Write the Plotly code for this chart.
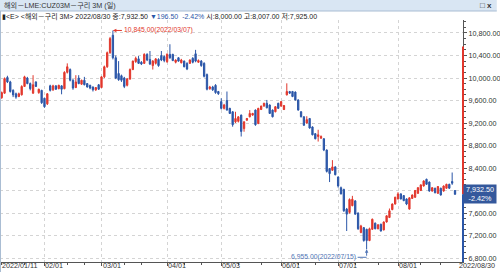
import plotly.graph_objects as go
import pandas as pd

# ---------------- data ----------------
HOLIDAYS = ["2022-04-15", "2022-04-18", "2022-05-02", "2022-06-02", "2022-06-03", "2022-08-29"]
dates = [d.strftime("%Y-%m-%d") for d in pd.bdate_range("2022-01-11", "2022-08-30")
         if d.strftime("%Y-%m-%d") not in HOLIDAYS]

opens = [9650, 9730, 10010, 9930, 9780, 9720, 9670, 9700, 9850, 10000,
         9900, 9730, 9930, 9740, 9780, 9640, 9540, 9860, 9790, 9860,
         9810, 9860, 9810, 10100, 10150, 9960, 9830, 10000, 9890, 9960,
         9900, 9870, 9840, 9790, 9880, 9830, 10020, 10200, 10450, 10760,
         10360, 10080, 10040, 10000, 9870, 9980, 10150, 10290, 10340, 10280,
         10260, 10420, 10330, 10220, 10260, 10330, 10400, 10380, 10290, 10420,
         10420, 10280, 10360, 10270, 10300, 10260, 10260, 10350, 10430, 10280,
         10300, 10260, 10060, 9810, 9840, 9870, 9760, 9580, 9460, 9600,
         9460, 9400, 9220, 9230, 9340, 9100, 9250, 9310, 9340, 9430,
         9190, 9440, 9500, 9550, 9520, 9430, 9400, 9550, 9500, 9440,
         9700, 9760, 9760, 9750, 9610, 9400, 9310, 9200, 9280, 9130,
         9010, 8960, 8930, 8920, 8720, 8390, 8360, 8420, 8240, 8050,
         8020, 7670, 7610, 7730, 7815, 7600, 7255, 7340, 7310, 7110,
         7310, 7420, 7320, 7400, 7300, 7440, 7520, 7660, 7760, 7850,
         7940, 7910, 7850, 7670, 7860, 7880, 7950, 8000, 8080, 8200,
         8150, 7990, 8040, 7950, 8040, 7990, 8040, 8110, 8160, 8000]
highs = [9760, 10010, 10040, 9950, 9800, 9740, 9740, 9870, 10040, 10020,
         9920, 10050, 9940, 9810, 9790, 9650, 9730, 9880, 9880, 9870,
         9880, 9870, 10120, 10260, 10170, 9980, 10050, 10050, 9970, 10020,
         9910, 9880, 9850, 9840, 9890, 10030, 10220, 10470, 10730, 10845,
         10400, 10300, 10060, 10020, 10000, 10170, 10310, 10380, 10390, 10300,
         10440, 10440, 10480, 10320, 10350, 10350, 10480, 10400, 10440, 10600,
         10430, 10330, 10370, 10340, 10310, 10280, 10330, 10370, 10500, 10330,
         10320, 10280, 10080, 9860, 9860, 9890, 9770, 9640, 9540, 9760,
         9470, 9410, 9400, 9320, 9350, 9230, 9290, 9430, 9380, 9440,
         9470, 9510, 9560, 9610, 9530, 9440, 9500, 9560, 9590, 9520,
         9905, 9770, 9770, 9760, 9620, 9410, 9320, 9320, 9290, 9140,
         9020, 9080, 8980, 8930, 8730, 8400, 8540, 8430, 8250, 8070,
         8030, 7690, 7860, 7905, 7830, 7610, 7390, 7350, 7320, 7340,
         7500, 7430, 7400, 7410, 7450, 7560, 7680, 7770, 7890, 7970,
         7950, 7920, 7860, 7880, 7930, 8010, 8060, 8110, 8180, 8210,
         8160, 8060, 8050, 8080, 8050, 8090, 8120, 8120, 8320, 8007]
lows = [9630, 9720, 9910, 9740, 9660, 9630, 9660, 9690, 9840, 9890,
        9780, 9720, 9840, 9720, 9540, 9470, 9520, 9760, 9770, 9790,
        9800, 9710, 9800, 10080, 9940, 9790, 9820, 9890, 9880, 9870,
        9830, 9800, 9760, 9770, 9790, 9820, 10000, 10180, 10430, 10330,
        9980, 9950, 9930, 9820, 9850, 9970, 10140, 10270, 10250, 10230,
        10250, 10300, 10230, 10150, 10240, 10200, 10300, 10280, 10270, 10340,
        10300, 10260, 10290, 10260, 10190, 10140, 10250, 10260, 10280, 10270,
        10200, 10010, 9780, 9790, 9770, 9720, 9700, 9440, 9440, 9420,
        9360, 9134, 9200, 9210, 8960, 9045, 9240, 9300, 9330, 9150,
        9180, 9430, 9490, 9460, 9360, 9300, 9390, 9450, 9490, 9430,
        9690, 9720, 9660, 9600, 9420, 9300, 9150, 9190, 9100, 8980,
        8910, 8870, 8920, 8700, 8320, 8150, 8350, 8270, 8050, 7930,
        7620, 7280, 7590, 7720, 7570, 7300, 7240, 7090, 6955, 7100,
        7300, 7310, 7310, 7270, 7290, 7430, 7510, 7650, 7750, 7840,
        7840, 7810, 7740, 7660, 7850, 7870, 7940, 7990, 8070, 8100,
        7980, 7980, 7950, 7940, 7910, 7980, 8030, 8030, 8100, 7925]
closes = [9740, 9990, 9930, 9760, 9700, 9660, 9720, 9850, 10020, 9900,
          9810, 9880, 9850, 9800, 9560, 9490, 9720, 9780, 9860, 9800,
          9870, 9800, 10100, 10200, 9960, 9820, 9930, 9900, 9960, 9880,
          9840, 9820, 9790, 9830, 9800, 10020, 10200, 10450, 10700, 10360,
          10000, 9970, 9960, 9850, 9980, 10150, 10300, 10350, 10260, 10250,
          10420, 10320, 10250, 10300, 10340, 10220, 10320, 10310, 10420, 10360,
          10310, 10320, 10300, 10320, 10200, 10160, 10320, 10280, 10300, 10310,
          10220, 10030, 9800, 9840, 9790, 9740, 9720, 9460, 9520, 9430,
          9370, 9170, 9280, 9310, 9050, 9220, 9280, 9370, 9370, 9170,
          9460, 9500, 9550, 9470, 9370, 9310, 9490, 9460, 9580, 9510,
          9760, 9730, 9670, 9610, 9430, 9310, 9160, 9260, 9110, 8990,
          8920, 8990, 8960, 8720, 8340, 8300, 8420, 8280, 8080, 7940,
          7640, 7580, 7840, 7845, 7580, 7320, 7370, 7110, 7110, 7320,
          7490, 7320, 7390, 7280, 7440, 7550, 7640, 7760, 7880, 7940,
          7850, 7820, 7760, 7870, 7920, 8000, 8050, 8100, 8170, 8110,
          7990, 8050, 7960, 8070, 7920, 8080, 8110, 8040, 8129, 7932.5]

MONTH_DATES = ["2022-02-01", "2022-03-01", "2022-04-01", "2022-05-03",
               "2022-06-01", "2022-07-01", "2022-08-01"]
MONTH_LABELS = ["02/01", "03/01", "04/01", "05/03", "06/01", "07/01", "08/01"]
FIRST_LABEL = "2022/01/11"
LAST_LABEL = "2022/08/30"
Y_TICKS = [6800, 7200, 7600, 8000, 8400, 8800, 9200, 9600, 10000, 10400, 10800]
LAST_CLOSE = 7932.50
CHANGE = 196.50
CHANGE_PCT = -2.42
DAY_OPEN, DAY_HIGH, DAY_LOW = 8000.00, 8007.00, 7925.00
AXIS_UP_TOP = 10560
TITLE = "해외－LME:CUZ03M－구리 3M (일)"
SUBTITLE_NAME = "<해외－구리 3M>"

# ---------------- styles ----------------
W, H = 500, 272
ML, MR, MT, MB = 0, 34, 20, 10
PW, PH = W - ML - MR, H - MT - MB
RED = "#e2372c"
BLUE = "#2b56a8"
LOWTXT = "#4f74b5"
GRID = "#d4d4d4"
AX = "#555555"
FONT = "Liberation Sans, Noto Sans CJK KR, sans-serif"


def pxx(p):
    return (p - ML) / PW


def pxy(p):
    return 1 - (p - MT) / PH


xs = list(range(len(dates)))
month_idx = [dates.index(d) for d in MONTH_DATES]
minor_idx = []
for m in range(1, 9):
    for day in (11, 21):
        tgt = f"2022-{m:02d}-{day:02d}"
        cand = [i for i, d in enumerate(dates) if d >= tgt]
        if cand and cand[0] not in minor_idx:
            minor_idx.append(cand[0])

fig = go.Figure()
fig.add_trace(go.Candlestick(
    x=xs, open=opens, high=highs, low=lows, close=closes,
    customdata=dates,
    increasing=dict(line=dict(color=RED, width=1), fillcolor=RED),
    decreasing=dict(line=dict(color=BLUE, width=1), fillcolor=BLUE),
    whiskerwidth=0, hoverinfo="skip", showlegend=False,
))

ymin, ymax = 6729, 11031

fig.update_layout(
    width=W, height=H,
    margin=dict(l=ML, r=MR, t=MT, b=MB),
    paper_bgcolor="white", plot_bgcolor="white",
    font=dict(family=FONT, size=8, color="#333333"),
    showlegend=False,
    boxgap=0.35,
    xaxis=dict(
        range=[-0.6, 161.8], rangeslider=dict(visible=False),
        tickmode="array", tickvals=month_idx, showticklabels=False,
        ticks="outside", ticklen=3, tickcolor=AX,
        showgrid=True, gridcolor=GRID, griddash="dot", gridwidth=1,
        showline=True, linecolor=AX, linewidth=1, zeroline=False,
        minor=dict(tickmode="array", tickvals=minor_idx, ticks="outside",
                   ticklen=2, tickcolor=AX, showgrid=False),
        fixedrange=True,
    ),
    yaxis=dict(
        side="right", range=[ymin, ymax],
        tickmode="array", tickvals=Y_TICKS,
        ticktext=["" if v == 8000 else f"{v:,.2f}" for v in Y_TICKS],
        ticks="outside", ticklen=3, tickcolor=AX,
        tickfont=dict(size=7.2, color="#333333", family=FONT),
        showgrid=True, gridcolor=GRID, griddash="dot", gridwidth=1,
        showline=True, linecolor=AX, linewidth=1, zeroline=False,
        minor=dict(dtick=100, ticks="outside", ticklen=2, tickcolor=AX, showgrid=False),
        fixedrange=True,
    ),
)

hi_i = max(range(len(highs)), key=lambda i: highs[i])
lo_i = min(range(len(lows)), key=lambda i: lows[i])

shapes = []
# title bar
shapes.append(dict(type="rect", xref="paper", yref="paper",
                   x0=pxx(0), x1=pxx(W), y0=pxy(0), y1=pxy(11),
                   fillcolor="#d9e6f3", line=dict(width=0), layer="below"))
shapes.append(dict(type="line", xref="paper", yref="paper",
                   x0=pxx(0), x1=pxx(W), y0=pxy(11), y1=pxy(11),
                   line=dict(color="#a9bdd3", width=1)))
# left window border
shapes.append(dict(type="line", xref="paper", yref="paper",
                   x0=pxx(0.5), x1=pxx(0.5), y0=pxy(11), y1=pxy(H),
                   line=dict(color="#a9bdd3", width=1)))
# right axis up/down coloured bar
shapes.append(dict(type="line", xref="paper", yref="y", x0=1, x1=1,
                   y0=AXIS_UP_TOP, y1=LAST_CLOSE, line=dict(color=RED, width=2)))
shapes.append(dict(type="line", xref="paper", yref="y", x0=1, x1=1,
                   y0=LAST_CLOSE, y1=ymin, line=dict(color=BLUE, width=2)))
# low marker leader line (horizontal part)
shapes.append(dict(type="line", xref="x", yref="y", xsizemode="pixel", ysizemode="pixel",
                   xanchor=lo_i, yanchor=lows[lo_i], x0=-9, x1=0, y0=-8, y1=-8,
                   line=dict(color=LOWTXT, width=1)))
fig.update_layout(shapes=shapes)

ann = []
ann.append(dict(xref="paper", yref="paper", x=pxx(2), y=pxy(5.5), xanchor="left", yanchor="middle",
                text=TITLE, showarrow=False, font=dict(family=FONT, size=7.2, color="#333333")))
ann.append(dict(xref="paper", yref="paper", x=pxx(W - 3), y=pxy(5.5), xanchor="right", yanchor="middle",
                text="<b>□ x</b>", showarrow=False, font=dict(family=FONT, size=8, color="#333333")))
sub = (f"▮&lt;E&gt; {SUBTITLE_NAME.replace('<', '&lt;').replace('>', '&gt;')} 2022/08/30 종:{LAST_CLOSE:,.2f} "
       f"<span style='color:{BLUE}'>▼{CHANGE:,.2f}  {CHANGE_PCT:.2f}%</span> "
       f"시:{DAY_OPEN:,.2f} 고:{DAY_HIGH:,.2f} 저:{DAY_LOW:,.2f}")
ann.append(dict(xref="paper", yref="paper", x=pxx(0), y=pxy(16), xanchor="left", yanchor="middle",
                text=sub, showarrow=False, font=dict(family=FONT, size=7, color="#222222")))

# high / low markers
hd = dates[hi_i].replace("-", "/")
ld = dates[lo_i].replace("-", "/")
ann.append(dict(x=hi_i, y=highs[hi_i], xref="x", yref="y",
                text=f"{highs[hi_i]:,.2f}({hd})", showarrow=True, arrowhead=2, arrowsize=0.7,
                arrowwidth=1, arrowcolor=RED, ax=9, ay=0, xanchor="left", yanchor="middle",
                font=dict(color=RED, size=6.8, family=FONT)))
ann.append(dict(x=lo_i, y=lows[lo_i], xref="x", yref="y", xshift=-9, yshift=-8,
                text=f"{lows[lo_i]:,.2f}({ld})", showarrow=False, xanchor="right", yanchor="middle",
                font=dict(color=LOWTXT, size=6.8, family=FONT)))
ann.append(dict(x=lo_i, y=lows[lo_i], xref="x", yref="y", text="", showarrow=True,
                arrowhead=2, arrowsize=0.7, arrowwidth=1, arrowcolor=LOWTXT, ax=0, ay=8,
                standoff=0, startstandoff=0))

# price tag
ann.append(dict(xref="paper", yref="y", x=1, y=LAST_CLOSE, xanchor="left", yanchor="middle",
                text=f"{LAST_CLOSE:,.2f}<br>{CHANGE_PCT:.2f}%", showarrow=False, align="center",
                bgcolor="#34589c", borderpad=0, width=32,
                font=dict(color="white", size=7.2, family=FONT)))

# x labels
lab_y = pxy(H)
ann.append(dict(xref="paper", yref="paper", x=pxx(0), y=lab_y, xanchor="left", yanchor="bottom",
                text=FIRST_LABEL, showarrow=False, font=dict(size=7.2, family=FONT, color="#333333")))
for i, lab in zip(month_idx, MONTH_LABELS):
    ann.append(dict(xref="x", yref="paper", x=i, y=lab_y, xanchor="left", yanchor="bottom",
                    xshift=-1, text=lab, showarrow=False,
                    font=dict(size=7.2, family=FONT, color="#333333")))
ann.append(dict(xref="paper", yref="paper", x=pxx(W), y=lab_y, xanchor="right", yanchor="bottom",
                text=LAST_LABEL, showarrow=False, font=dict(size=7.2, family=FONT, color="#333333")))
fig.update_layout(annotations=ann)

fig.write_html("out.html")
